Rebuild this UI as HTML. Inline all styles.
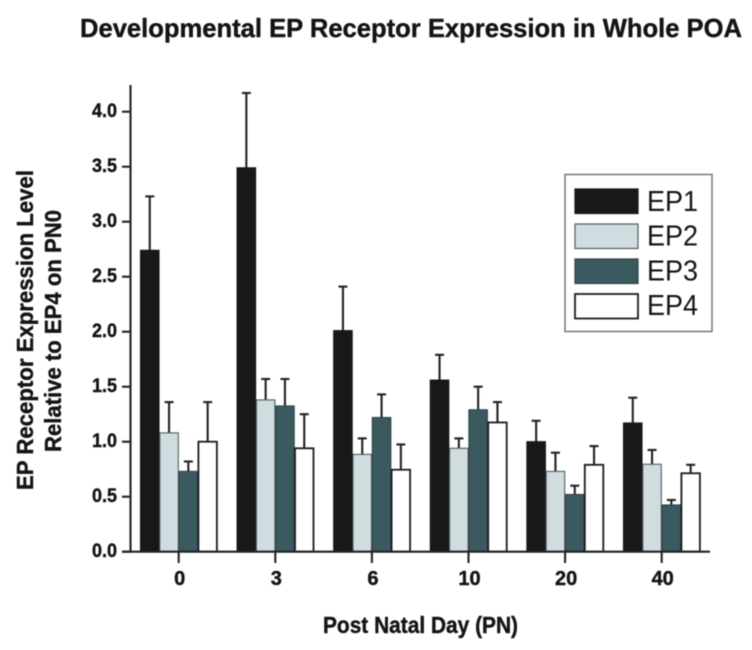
<!DOCTYPE html>
<html lang="en">
<head>
<meta charset="utf-8">
<title>Developmental EP Receptor Expression in Whole POA</title>
<style>
html,body{margin:0;padding:0;background:#fff;}
svg{display:block;filter:blur(0.4px);}
text{font-family:"Liberation Sans",Arial,sans-serif;fill:#141414;}
.b{font-weight:bold;stroke:#141414;stroke-width:0.4px;}
</style>
</head>
<body>
<svg id="chart" xmlns="http://www.w3.org/2000/svg" width="752" height="650" viewBox="0 0 752 650">
<text class="b" x="80" y="37" font-size="26" textLength="662" lengthAdjust="spacingAndGlyphs">Developmental EP Receptor Expression in Whole POA</text>
<text class="b" transform="translate(33,490) rotate(-90)" font-size="23.5" textLength="320" lengthAdjust="spacingAndGlyphs">EP Receptor Expression Level</text>
<text class="b" transform="translate(61,452) rotate(-90)" font-size="23.5" textLength="242" lengthAdjust="spacingAndGlyphs">Relative to EP4 on PN0</text>
<text class="b" x="323" y="633" font-size="23.5" textLength="195" lengthAdjust="spacingAndGlyphs">Post Natal Day (PN)</text>
<g id="bars"></g>
<g id="axes"></g>
<g>
<rect x="565" y="174.5" width="147" height="157" fill="#fff" stroke="#777" stroke-width="1.5"/>
<g id="legend-entries"></g>
</g>
</svg>
<script>
const categories = ['0', '3', '6', '10', '20', '40'];
const seriesNames = ['EP1', 'EP2', 'EP3', 'EP4'];
const ep1 = [2.74, 3.49, 2.01, 1.56, 1.00, 1.17];
const ep2 = [1.08, 1.38, 0.885, 0.94, 0.73, 0.795];
const ep3 = [0.73, 1.325, 1.22, 1.29, 0.52, 0.425];
const ep4 = [1.00, 0.94, 0.745, 1.175, 0.79, 0.713];
const ep1Top = [3.23, 4.17, 2.41, 1.79, 1.19, 1.40];
const ep2Top = [1.36, 1.57, 1.03, 1.03, 0.90, 0.925];
const ep3Top = [0.82, 1.57, 1.43, 1.50, 0.60, 0.47];
const ep4Top = [1.36, 1.25, 0.975, 1.36, 0.96, 0.79];
const yTicks = [0, 0.5, 1, 1.5, 2, 2.5, 3, 3.5, 4];

const NS = 'http://www.w3.org/2000/svg';
const seriesValues = [ep1, ep2, ep3, ep4];
const seriesTops = [ep1Top, ep2Top, ep3Top, ep4Top];
const fills = ['#161918', '#cfdde0', '#3a5a60', '#ffffff'];
const strokes = ['#161918', '#555b5c', '#2f4347', '#1c1c1c'];

function yScale(v) { return 551.7 - v * 110; }
function xCenter(i) { return 178.7 + i * 96.6; }

function make(parent, tag, attrs) {
  const el = document.createElementNS(NS, tag);
  for (const k in attrs) el.setAttribute(k, attrs[k]);
  parent.appendChild(el);
  return el;
}

const barsG = document.getElementById('bars');
const axesG = document.getElementById('axes');
const legendG = document.getElementById('legend-entries');
const barW = 19.3;

seriesValues.forEach(function (vals, s) {
  vals.forEach(function (v, i) {
    const x = xCenter(i) - 2 * barW + s * barW;
    const cx = x + barW / 2;
    const top = yScale(v);
    const errTop = yScale(seriesTops[s][i]);
    const stem = make(barsG, 'line', {x1: cx, x2: cx, y1: top, y2: errTop, stroke: '#222', 'stroke-width': 2.1});
    
    
    const cap = make(barsG, 'line', {x1: cx - 4.5, x2: cx + 4.5, y1: errTop, y2: errTop, stroke: '#222', 'stroke-width': 2.1});
    
    
  });
});
seriesValues.forEach(function (vals, s) {
  vals.forEach(function (v, i) {
    const x = xCenter(i) - 2 * barW + s * barW;
    const top = yScale(v);
    const r = make(barsG, 'rect', {x: x + 0.4, y: top, width: barW - 0.8, height: yScale(0) - top, fill: fills[s], stroke: strokes[s], 'stroke-width': s === 3 ? 1.8 : 1.1});
    
    
  });
});

const yAxis = make(axesG, 'line', {x1: 130.5, x2: 130.5, y1: 85, y2: 552.5, stroke: '#222', 'stroke-width': 2.1});


const xAxis = make(axesG, 'line', {x1: 122, x2: 710, y1: 551.7, y2: 551.7, stroke: '#222', 'stroke-width': 2.1});



yTicks.forEach(function (t) {
  const y = yScale(t);
  const tick = make(axesG, 'line', {x1: 122, x2: 130.5, y1: y, y2: y, stroke: '#222', 'stroke-width': 2.1});
  
  
  const label = make(axesG, 'text', {x: 92, y: y + 5.5, 'font-size': 19.5, 'class': 'b', textLength: 25, lengthAdjust: 'spacingAndGlyphs'});
  label.textContent = t.toFixed(1);
  
  
});

categories.forEach(function (c, i) {
  const x = xCenter(i);
  const tick = make(axesG, 'line', {x1: x, x2: x, y1: 551.7, y2: 563, stroke: '#222', 'stroke-width': 2.1});
  
  
  const label = make(axesG, 'text', {x: x + 1, y: 585, 'text-anchor': 'middle', 'font-size': 20, 'class': 'b'});
  label.textContent = c;
  
  
});

seriesNames.forEach(function (name, s) {
  const y = 189 + s * 35;
  const sw = make(legendG, 'rect', {x: 575, y: y, width: 63, height: 24.5, fill: fills[s], stroke: strokes[s], 'stroke-width': s === 3 ? 1.8 : 1.2});
  
  
  const label = make(legendG, 'text', {x: 647, y: 211 + s * 34.7, 'font-size': 29, textLength: 51, lengthAdjust: 'spacingAndGlyphs'});
  label.textContent = name;
  
  
});
</script>
</body>
</html>
